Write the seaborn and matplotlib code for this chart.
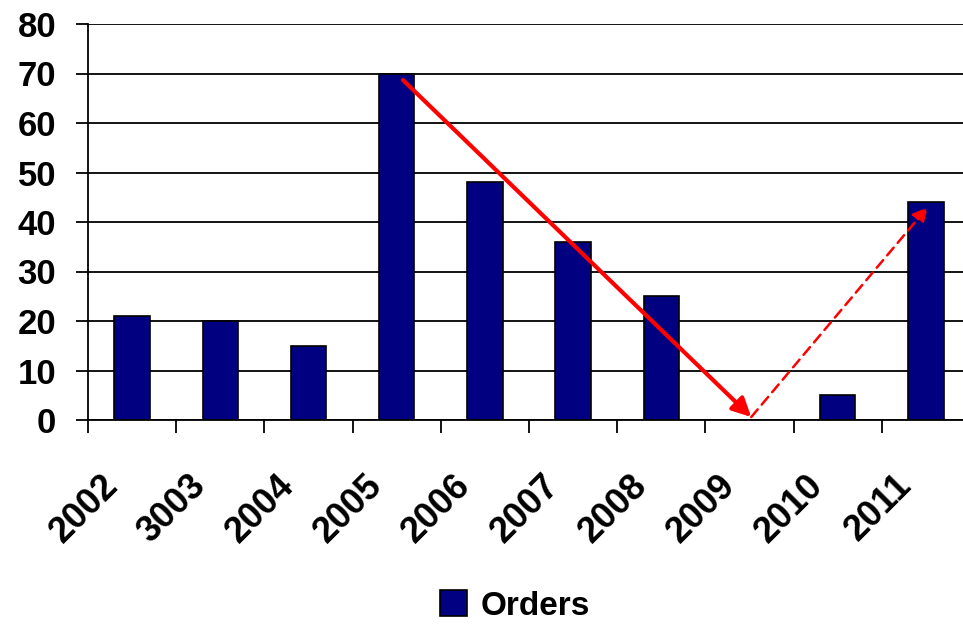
import numpy as np
import pandas as pd
import seaborn as sns
import matplotlib.pyplot as plt
import matplotlib.transforms as mtrans

years = ["2002", "3003", "2004", "2005", "2006", "2007", "2008", "2009", "2010", "2011"]
orders = [21, 20, 15, 70, 48, 36, 25, 0, 5, 44]

# trend arrows (category index, value)
down_start = (3.07, 68.7)
down_end = (7.02, 0.6)
up_end = (9.02, 43.0)

sns.set_style("white")
plt.rcParams["font.family"] = ["Liberation Sans", "DejaVu Sans"]
plt.rcParams["font.weight"] = "bold"
plt.rcParams["text.color"] = "black"
plt.rcParams["xtick.color"] = "black"
plt.rcParams["ytick.color"] = "black"

df = pd.DataFrame({"Year": years, "Orders": orders})

fig = plt.figure(figsize=(9.63, 6.24), dpi=100)
ax = fig.add_axes([88 / 963, 1 - 420 / 624, (970 - 88) / 963, (420 - 24) / 624])

sns.barplot(data=df, x="Year", y="Orders", color="#000080", width=0.4,
            edgecolor="black", linewidth=1.2, saturation=1, label="Orders", ax=ax)
if ax.get_legend() is not None:
    ax.get_legend().remove()

ax.set_ylim(0, 80)
ax.set_xlim(-0.5, len(years) - 0.5)
ax.set_yticks(np.arange(0, 81, 10))
ax.yaxis.grid(True, color="black", linewidth=1.3)
ax.set_axisbelow(True)
ax.set_xlabel("")
ax.set_ylabel("")

for s in ["top", "right"]:
    ax.spines[s].set_visible(False)
for s in ["left", "bottom"]:
    ax.spines[s].set_color("black")
    ax.spines[s].set_linewidth(1.3)

# x ticks sit on category boundaries, labels drawn under bar centres
ax.set_xticks(np.arange(-0.5, len(years) - 0.4, 1.0))
ax.set_xticklabels([])
ax.tick_params(axis="x", direction="out", length=9, width=1.3,
               bottom=True, color="black")
shift = mtrans.ScaledTranslation(-0.32, -0.48, fig.dpi_scale_trans)
for i, yr in enumerate(years):
    ax.text(i, 0, yr, transform=ax.get_xaxis_transform() + shift,
            rotation=45, ha="right", va="top", rotation_mode="anchor",
            fontsize=26, fontweight="bold", color="black")

ax.tick_params(axis="y", direction="out", length=9, width=1.3, left=True,
               color="black", labelsize=25, pad=14, labelcolor="black")
for t in ax.get_yticklabels():
    t.set_fontweight("bold")

ax.annotate("", xy=down_end, xytext=down_start,
            arrowprops=dict(arrowstyle="-|>", color="red", lw=3,
                            mutation_scale=28, shrinkA=0, shrinkB=0))
ax.annotate("", xy=up_end, xytext=down_end,
            arrowprops=dict(arrowstyle="-|>", color="red", lw=1.8,
                            ls=(0, (4, 2.5)), mutation_scale=22,
                            shrinkA=0, shrinkB=0))

handles, labels = ax.get_legend_handles_labels()
fig.legend(handles[:1], labels[:1], loc="center",
           bbox_to_anchor=(515 / 963, 1 - 606 / 624),
           frameon=False, prop={"size": 24, "weight": "bold"},
           handlelength=0.8, handleheight=0.8, handletextpad=0.4)

fig.savefig("out.png", dpi=100)
